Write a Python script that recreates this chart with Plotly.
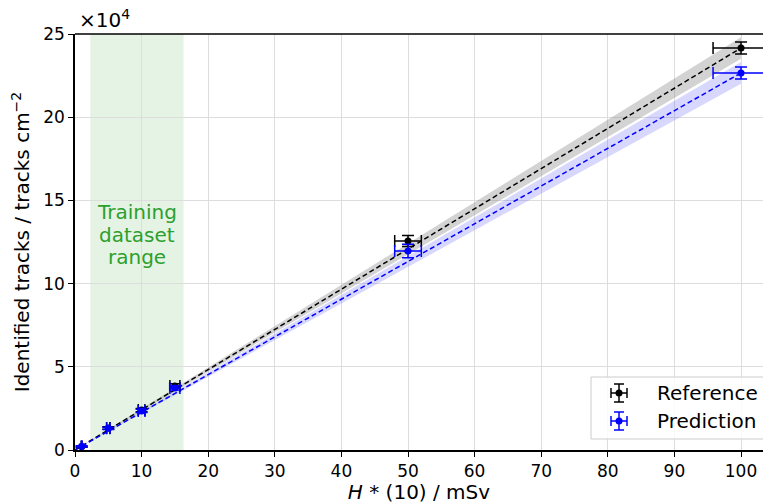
import numpy as np
import plotly.graph_objects as go

# Dose values (mSv) and track densities (tracks / cm^2)
dose = [1, 5, 10, 15, 50, 100]
dose_err = [0.05, 0.25, 0.5, 0.75, 2.0, 4.2]

ref_tracks = [2000, 13200, 24000, 38500, 125600, 241600]
ref_err = [400, 700, 1000, 1300, 3300, 3600]

pred_tracks = [2200, 13000, 23500, 37300, 119600, 226600]
pred_err = [400, 700, 1000, 1300, 4000, 3600]

# Linear fits: slope (tracks cm^-2 per mSv), intercept, slope uncertainty
ref_fit = dict(slope=2416.0, intercept=0.0, slope_err=65.0)
pred_fit = dict(slope=2266.0, intercept=0.0, slope_err=65.0)

train_range = [2.3, 16.3]
train_label = ["Training", "dataset", "range"]

y_ticks = [0, 50000, 100000, 150000, 200000, 250000]
y_tick_text = ["0", "5", "10", "15", "20", "25"]
x_ticks = [0, 10, 20, 30, 40, 50, 60, 70, 80, 90, 100]

FONT = "DejaVu Sans"
BLACK = "#000000"
BLUE = "#0000ff"

# plot area in pixels
W, H = 763, 504
L, R, T, B = 75, 763, 34, 450


def px(xp, yp):
    return (xp - L) / (R - L), (B - yp) / (B - T)


fig = go.Figure()

fit_x = np.array([0.0, 100.0])


def add_fit(fit, line_color, band_color):
    y = fit["slope"] * fit_x + fit["intercept"]
    hi = (fit["slope"] + fit["slope_err"]) * fit_x + fit["intercept"]
    lo = (fit["slope"] - fit["slope_err"]) * fit_x + fit["intercept"]
    fig.add_trace(go.Scatter(x=fit_x, y=hi, mode="lines", line=dict(width=0),
                             showlegend=False, hoverinfo="skip"))
    fig.add_trace(go.Scatter(x=fit_x, y=lo, mode="lines", line=dict(width=0),
                             fill="tonexty", fillcolor=band_color,
                             showlegend=False, hoverinfo="skip"))
    fig.add_trace(go.Scatter(x=fit_x, y=y, mode="lines",
                             line=dict(color=line_color, width=1.5, dash="5px,3px"),
                             showlegend=False, hoverinfo="skip"))


add_fit(ref_fit, BLACK, "rgba(128,128,128,0.35)")
add_fit(pred_fit, BLUE, "rgba(100,100,255,0.25)")


def add_points(yv, ye, color):
    fig.add_trace(go.Scatter(
        x=dose, y=yv, mode="markers",
        marker=dict(color=color, size=7, symbol="circle"),
        error_x=dict(type="data", array=dose_err, color=color, thickness=1.5, width=6),
        error_y=dict(type="data", array=ye, color=color, thickness=1.5, width=6),
        showlegend=False))


add_points(ref_tracks, ref_err, BLACK)
add_points(pred_tracks, pred_err, BLUE)

shapes = []
# training dataset range
shapes.append(dict(type="rect", xref="x", yref="paper", x0=train_range[0], x1=train_range[1],
                   y0=0, y1=1, fillcolor="rgba(44,160,44,0.12)", line=dict(width=0),
                   layer="below"))

# legend box and glyphs
lx0, ly0 = px(591, 377)
lx1, ly1 = px(775, 439)
shapes.append(dict(type="rect", xref="paper", yref="paper", x0=lx0, x1=lx1, y0=ly1, y1=ly0,
                   fillcolor="rgba(255,255,255,0.85)", line=dict(color="#cccccc", width=1)))


def glyph(cx, cy, color):
    out = []
    hw, hh, cap = 8, 9, 5
    segs = [
        (cx - hw, cy, cx + hw, cy),
        (cx, cy - hh, cx, cy + hh),
        (cx - hw, cy - cap, cx - hw, cy + cap),
        (cx + hw, cy - cap, cx + hw, cy + cap),
        (cx - cap, cy - hh, cx + cap, cy - hh),
        (cx - cap, cy + hh, cx + cap, cy + hh),
    ]
    for a, b, c, d in segs:
        x0, y0 = px(a, b)
        x1, y1 = px(c, d)
        out.append(dict(type="line", xref="paper", yref="paper", x0=x0, y0=y0, x1=x1, y1=y1,
                        line=dict(color=color, width=1.5)))
    x0, y0 = px(cx - 3.5, cy - 3.5)
    x1, y1 = px(cx + 3.5, cy + 3.5)
    out.append(dict(type="circle", xref="paper", yref="paper", x0=x0, y0=y1, x1=x1, y1=y0,
                    fillcolor=color, line=dict(color=color, width=0)))
    return out


shapes += glyph(619, 393, BLACK)
shapes += glyph(619, 421, BLUE)

annotations = []
for text, yp in [("Reference", 393), ("Prediction", 421)]:
    ax, ay = px(655, yp)
    annotations.append(dict(text=text, xref="paper", yref="paper", x=ax, y=ay,
                            xanchor="left", yanchor="middle", showarrow=False,
                            font=dict(family=FONT, size=20, color="#000000")))

# "Training dataset range" label, one line per annotation for tight spacing
for i, line in enumerate(train_label):
    _, ay = px(0, 212 + 22.5 * i)
    annotations.append(dict(text=line, xref="x", yref="paper",
                            x=(train_range[0] + train_range[1]) / 2, y=ay,
                            xanchor="center", yanchor="middle", showarrow=False,
                            font=dict(family=FONT, size=20, color="#2ca02c")))

ex, ey = px(77, 19)
annotations.append(dict(text="×10<sup>4</sup>", xref="paper", yref="paper", x=ex, y=ey,
                        xanchor="left", yanchor="middle", showarrow=False,
                        font=dict(family=FONT, size=20, color="#000000")))

fig.update_layout(
    width=W, height=H,
    margin=dict(l=L, r=W - R, t=T, b=H - B),
    paper_bgcolor="white", plot_bgcolor="white",
    font=dict(family=FONT, size=17, color="#000000"),
    shapes=shapes, annotations=annotations,
    showlegend=False,
)

fig.update_xaxes(
    range=[0, 103.3], tickvals=x_ticks, showgrid=True, gridcolor="#dddddd", gridwidth=1,
    zeroline=False, showline=True, linecolor="black", linewidth=1.5, mirror=False,
    ticks="outside", ticklen=5, tickwidth=1.2, tickcolor="black",
    title=dict(text="<i>H</i> * (10) / mSv", font=dict(size=20), standoff=2),
)
fig.update_yaxes(
    range=[0, 250000], tickvals=y_ticks, ticktext=y_tick_text, showgrid=True,
    gridcolor="#dddddd", gridwidth=1, zeroline=False, showline=True, linecolor="black",
    linewidth=1.5, ticks="outside", ticklen=5, tickwidth=1.2, tickcolor="black",
    title=dict(text="Identified tracks / tracks cm<sup>−2</sup>", font=dict(size=20), standoff=8),
)

# top spine
fig.add_shape(type="line", xref="paper", yref="paper", x0=0, x1=1, y0=1, y1=1,
              line=dict(color="black", width=1.5))

fig.write_html("out.html")
